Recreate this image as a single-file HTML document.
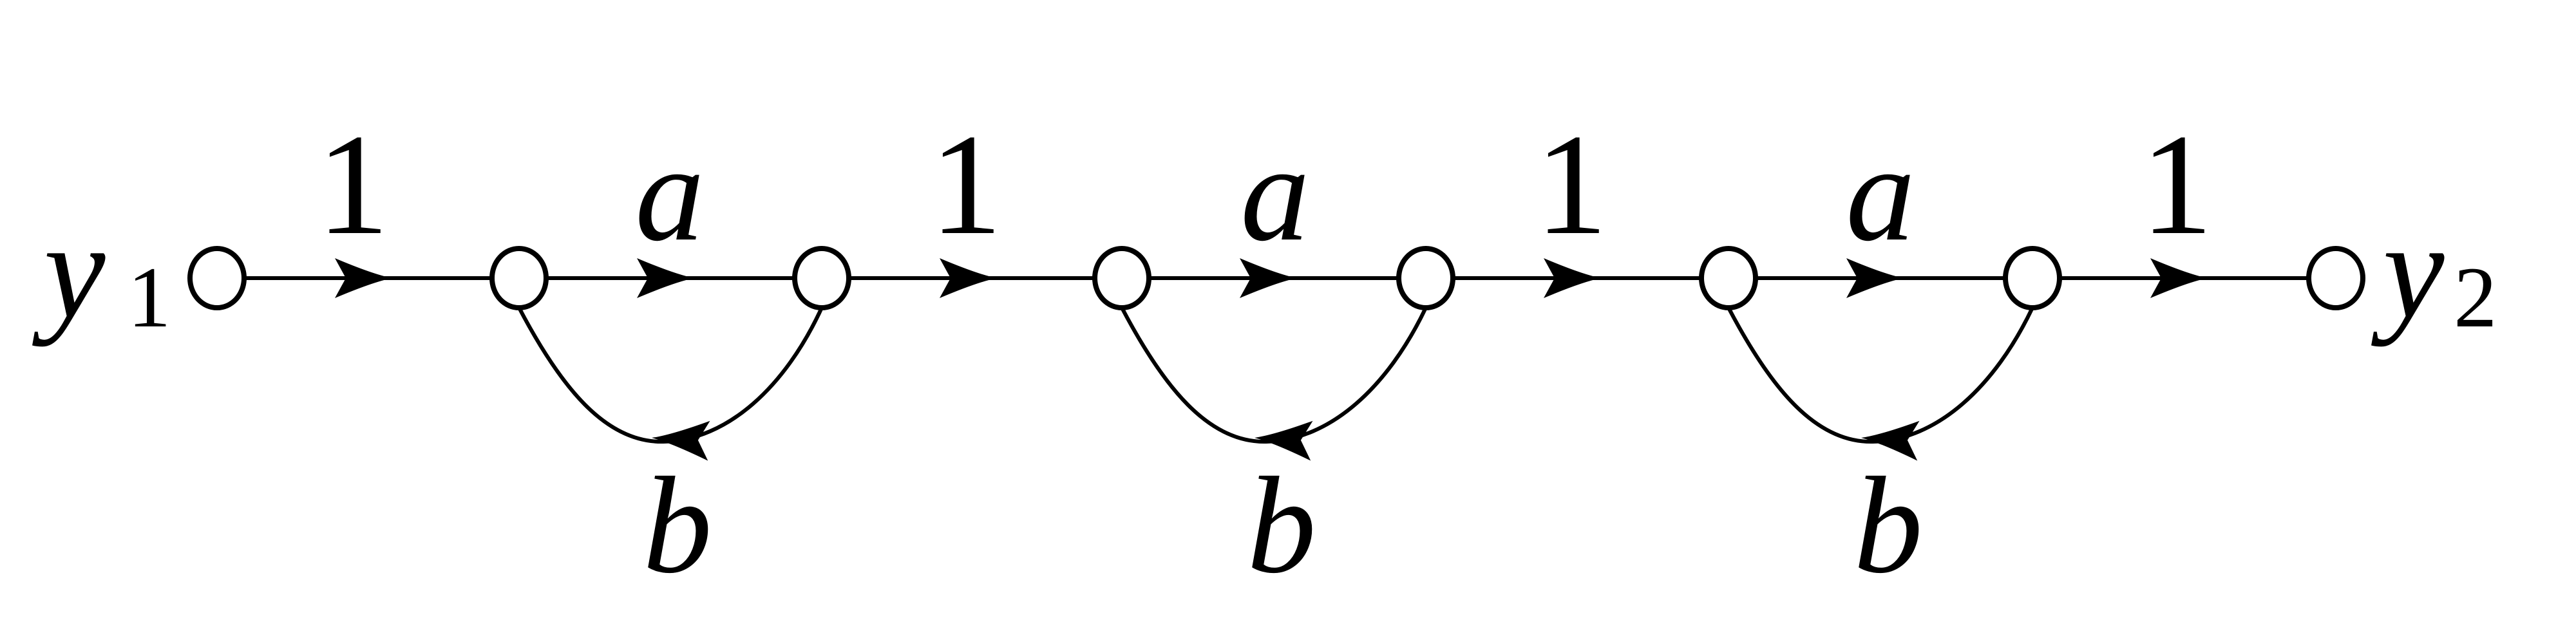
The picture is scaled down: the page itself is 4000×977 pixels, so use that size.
<!DOCTYPE html>
<html><head><meta charset="utf-8"><style>
html,body{margin:0;padding:0;background:#fff;}
svg{display:block;}
</style></head><body>
<svg width="4000" height="977" viewBox="0 0 4000 977" xmlns="http://www.w3.org/2000/svg">
<defs>
<path id="ah" d="M0,0 Q-30,-6 -89,-31 L-72,0 L-89,31 Q-30,6 0,0 Z" fill="#000"/>
</defs>
<g stroke="#000" stroke-width="6" fill="none">
<line x1="337" y1="432" x2="3627" y2="432"/>
<path d="M806,478 C870,600 940,688 1030,686 C1130,684 1220,600 1276,478"/>
<path d="M1742,478 C1806,600 1876,688 1966,686 C2066,684 2156,600 2214,478"/>
<path d="M2684,478 C2748,600 2818,688 2908,686 C3008,684 3098,600 3156,478"/>
</g>
<g fill="#fff" stroke="#000" stroke-width="8">
<ellipse cx="337" cy="432" rx="42" ry="46"/>
<ellipse cx="806" cy="432" rx="42" ry="46"/>
<ellipse cx="1276" cy="432" rx="42" ry="46"/>
<ellipse cx="1742" cy="432" rx="42" ry="46"/>
<ellipse cx="2214" cy="432" rx="42" ry="46"/>
<ellipse cx="2684" cy="432" rx="42" ry="46"/>
<ellipse cx="3156" cy="432" rx="42" ry="46"/>
<ellipse cx="3627" cy="432" rx="42" ry="46"/>
</g>
<use href="#ah" transform="translate(609,432)"/>
<use href="#ah" transform="translate(1078,432)"/>
<use href="#ah" transform="translate(1548,432)"/>
<use href="#ah" transform="translate(2014,432)"/>
<use href="#ah" transform="translate(2486,432)"/>
<use href="#ah" transform="translate(2956,432)"/>
<use href="#ah" transform="translate(3428,432)"/>
<use href="#ah" transform="translate(1012,680) rotate(183)"/>
<use href="#ah" transform="translate(1948,680) rotate(183)"/>
<use href="#ah" transform="translate(2890,680) rotate(183)"/>
<g font-family="'Liberation Serif','Times New Roman','Nimbus Roman','FreeSerif',serif" fill="#000">
<g font-size="225" text-anchor="middle">
<text x="548" y="362">1</text>
<text x="1500" y="362">1</text>
<text x="2440" y="362">1</text>
<text x="3380" y="362">1</text>
</g>
<g font-size="215" font-style="italic" text-anchor="middle">
<text x="1040" y="372">a</text>
<text x="1980" y="372">a</text>
<text x="2920" y="372">a</text>
<text x="1052" y="888">b</text>
<text x="1990" y="888">b</text>
<text x="2932" y="888">b</text>
</g>
<text x="68" y="492" font-size="215" font-style="italic">y</text>
<text x="198" y="507" font-size="135">1</text>
<text x="3700" y="492" font-size="215" font-style="italic">y</text>
<text x="3810" y="507" font-size="135">2</text>
</g>
</svg>
</body></html>
